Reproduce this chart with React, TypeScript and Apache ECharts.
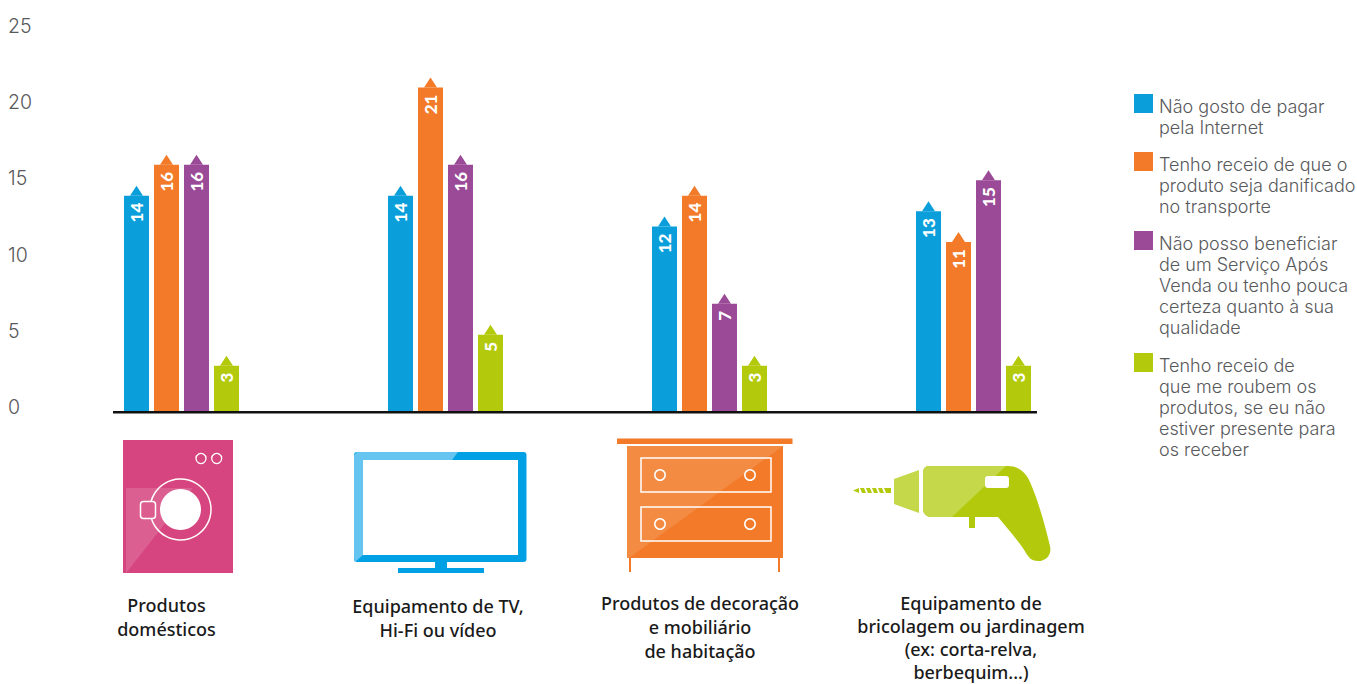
import React, { useEffect, useRef } from "react";
import * as echarts from "echarts";

const categories = ["Produtos domésticos", "Equipamento de TV, Hi-Fi ou vídeo", "Produtos de decoração e mobiliário de habitação", "Equipamento de bricolagem ou jardinagem (ex: corta-relva, berbequim...)"];
const categoryCaptions = ["Produtos\ndomésticos", "Equipamento de TV,\nHi-Fi ou vídeo", "Produtos de decoração\ne mobiliário\nde habitação", "Equipamento de\nbricolagem ou jardinagem\n(ex: corta-relva,\nberbequim...)"];
const seriesNames = [
  "Não gosto de pagar\npela Internet",
  "Tenho receio de que o\nproduto seja danificado\nno transporte",
  "Não posso beneficiar\nde um Serviço Após\nVenda ou tenho pouca\ncerteza quanto à sua\nqualidade",
  "Tenho receio de\nque me roubem os\nprodutos, se eu não\nestiver presente para\nos receber",
];
const pagamento = [14, 14, 12, 13];
const transporte = [16, 21, 14, 11];
const posVenda = [16, 16, 7, 15];
const roubo = [3, 5, 3, 3];
const seriesValues = [pagamento, transporte, posVenda, roubo];
const seriesColors = ["#0a9fdb", "#f27a28", "#9a4a96", "#b3c90c"];
const axisTicks = [0, 5, 10, 15, 20, 25];

const BAR_W = 25;
const BAR_STEP = 30;
const captionX = [166.5, 438, 700, 971];
const captionY = [593, 594, 591, 591];
const captionLineHeight = [24, 24, 24, 23];
const legendSquares = [94, 152, 231, 353];
const legendTextY = [96, 154, 233, 355];
const LIGHT_FAMILY = 'Inter, Roboto, "Liberation Sans", sans-serif';

echarts.graphic.registerShape(
  "drillBody",
  echarts.graphic.extendPath(
    "M929 466 L1008 466 C1018 466 1026 472 1030 482 C1038 500 1045 525 1050 546 C1052 555 1046 561 1038 561 C1032 561 1029 558 1026 553 C1018 540 1006 527 998 517 L931 517 C926 517 923 513 923 509 L923 473 C923 469 925 466 929 466 Z",
    {}
  )
);
echarts.graphic.registerShape(
  "drillGlare",
  echarts.graphic.extendPath(
    "M929 466 L1006 466 L952 517 L931 517 C926 517 923 513 923 509 L923 473 C923 469 925 466 929 466 Z",
    {}
  )
);

const white = "#ffffff";
const ringStyle = (lineWidth: number, fill = "transparent") => ({ fill, stroke: white, lineWidth });
const box = (x: number, y: number, width: number, height: number, fill: string, r = 0) => ({
  type: "rect",
  shape: { x, y, width, height, r },
  style: { fill },
});
const circle = (cx: number, cy: number, r: number, style: object) => ({
  type: "circle",
  shape: { cx, cy, r },
  style,
});
const poly = (points: number[][], fill: string) => ({ type: "polygon", shape: { points }, style: { fill } });

function washerIcon() {
  const pink = "#d6457f";
  return [
    box(123, 440, 110, 133, pink),
    poly([[126, 488], [193, 488], [126, 573]], "rgba(255,255,255,0.14)"),
    circle(201, 458.5, 5, ringStyle(1.3)),
    circle(216.7, 458.5, 5, ringStyle(1.3)),
    circle(180.5, 509.5, 30.5, ringStyle(1.5)),
    circle(180.5, 509.5, 20.5, { fill: white }),
    { type: "rect", shape: { x: 140.5, y: 501.5, width: 15, height: 17, r: 3 }, style: ringStyle(1.5, "#dd5c8f") },
  ];
}

function screenIcon() {
  const blue = "#00a1e4";
  const pale = "#66c5f0";
  return [
    box(354, 452, 172.5, 110, blue, 3),
    {
      type: "polygon",
      shape: { points: [[357, 452], [458, 452], [452, 460], [363, 460], [363, 555], [355, 562], [354, 558], [354, 455]] },
      style: { fill: pale },
    },
    box(363, 460, 155, 95, white),
    box(435, 562, 12, 6, blue),
    box(398, 568, 86, 5, blue),
  ];
}

function dresserIcon() {
  const orange = "#f27a28";
  const knobs = [[660, 475], [750, 475], [660, 524], [750, 524]];
  return [
    box(617, 438.5, 175.5, 5.5, orange),
    box(627, 446, 156, 112, orange),
    poly([[627, 446], [783, 446], [629, 558], [627, 558]], "rgba(255,255,255,0.13)"),
    box(629, 558, 2, 14, orange),
    box(778, 558, 2, 14, orange),
    { type: "rect", shape: { x: 641, y: 458, width: 130, height: 34 }, style: ringStyle(1.5) },
    { type: "rect", shape: { x: 641, y: 507, width: 130, height: 34 }, style: ringStyle(1.5) },
    ...knobs.map(([cx, cy]) => circle(cx, cy, 5.2, ringStyle(1.5))),
  ];
}

function drillIcon() {
  const green = "#b3c90c";
  const pale = "#c4d84a";
  const flutes = [860, 866, 872, 878, 884];
  return [
    poly([[853, 490.5], [859, 488], [859, 493]], green),
    ...flutes.map((x) => poly([[x, 488], [x + 4, 488], [x + 6, 493], [x + 2, 493]], green)),
    box(888, 488, 3, 5, green),
    poly([[894, 479], [919, 470], [919, 513], [894, 504]], pale),
    { type: "drillBody", style: { fill: green } },
    { type: "drillGlare", style: { fill: pale } },
    box(985, 476, 24, 12, white, 3),
    box(969, 517, 6, 11, green),
  ];
}

function legendGraphics() {
  return seriesNames.flatMap((name, i) => [
    box(1134, legendSquares[i], 19, 19, seriesColors[i]),
    {
      type: "text",
      x: 1159,
      y: legendTextY[i],
      style: {
        text: name,
        font: `300 18px ${LIGHT_FAMILY}`,
        fill: "#58595b",
        lineHeight: 21,
        align: "left",
        verticalAlign: "top",
      },
    },
  ]);
}

function captionGraphics() {
  return categoryCaptions.map((text, i) => ({
    type: "text",
    x: captionX[i],
    y: captionY[i],
    style: {
      text,
      font: '500 18px "Noto Sans", sans-serif',
      fill: "#1a1a1a",
      lineHeight: captionLineHeight[i],
      align: "center",
      verticalAlign: "top",
    },
  }));
}

export default function App() {
  const ref = useRef<HTMLDivElement>(null);

  useEffect(() => {
    document.body.style.margin = "0";
    const chart = echarts.init(ref.current!, null, { renderer: "svg" });

    const bars = seriesValues.map((values, i) => ({
      type: "bar",
      name: seriesNames[i],
      data: values,
      xAxisIndex: 0,
      yAxisIndex: 0,
      barWidth: BAR_W,
      barGap: "20%",
      itemStyle: { color: seriesColors[i] },
      label: {
        show: true,
        position: "insideTop",
        distance: 7,
        rotate: 90,
        align: "right",
        verticalAlign: "middle",
        color: white,
        fontFamily: "Lato, sans-serif",
        fontWeight: 900,
        fontSize: 17,
      },
    }));
    // Arrow tips sitting on top of each column
    const tips = seriesValues.map((values, i) => ({
      type: "scatter",
      data: values,
      xAxisIndex: 0,
      yAxisIndex: 0,
      symbol: "triangle",
      symbolSize: [13, 10],
      symbolOffset: [(i - 1.5) * BAR_STEP, -5],
      itemStyle: { color: seriesColors[i], opacity: 1 },
      silent: true,
      z: 1,
    }));

    chart.setOption({
      animation: false,
      tooltip: { show: false },
      grid: [
        { left: 49.5, top: 25.75, width: 1056, height: 386.25 },
        { left: 40, top: 26, width: 10, height: 381 },
      ],
      xAxis: [
        { type: "category", gridIndex: 0, data: categories, axisLine: { show: false }, axisTick: { show: false }, axisLabel: { show: false } },
        { type: "value", gridIndex: 1, min: 0, max: 1, show: false },
      ],
      yAxis: [
        { type: "value", gridIndex: 0, min: 0, max: 25, show: false },
        {
          type: "value",
          gridIndex: 1,
          min: 0,
          max: 25,
          interval: 5,
          position: "left",
          axisLine: { show: false },
          axisTick: { show: false },
          splitLine: { show: false },
          axisLabel: {
            align: "left",
            margin: 32,
            color: "#58595b",
            fontFamily: LIGHT_FAMILY,
            fontWeight: 300,
            fontSize: 19.5,
            formatter: (v: number) => (axisTicks.includes(v) ? String(v) : ""),
          },
        },
      ],
      series: [...bars, ...tips],
      graphic: {
        elements: [
          { ...box(113, 411, 924, 2.4, "#111111"), z: 10 },
          ...washerIcon(),
          ...screenIcon(),
          ...dresserIcon(),
          ...drillIcon(),
          ...captionGraphics(),
          ...legendGraphics(),
        ],
      },
    });
    return () => chart.dispose();
  }, []);

  return <div ref={ref} style={{ width: 1357, height: 684 }} />;
}
